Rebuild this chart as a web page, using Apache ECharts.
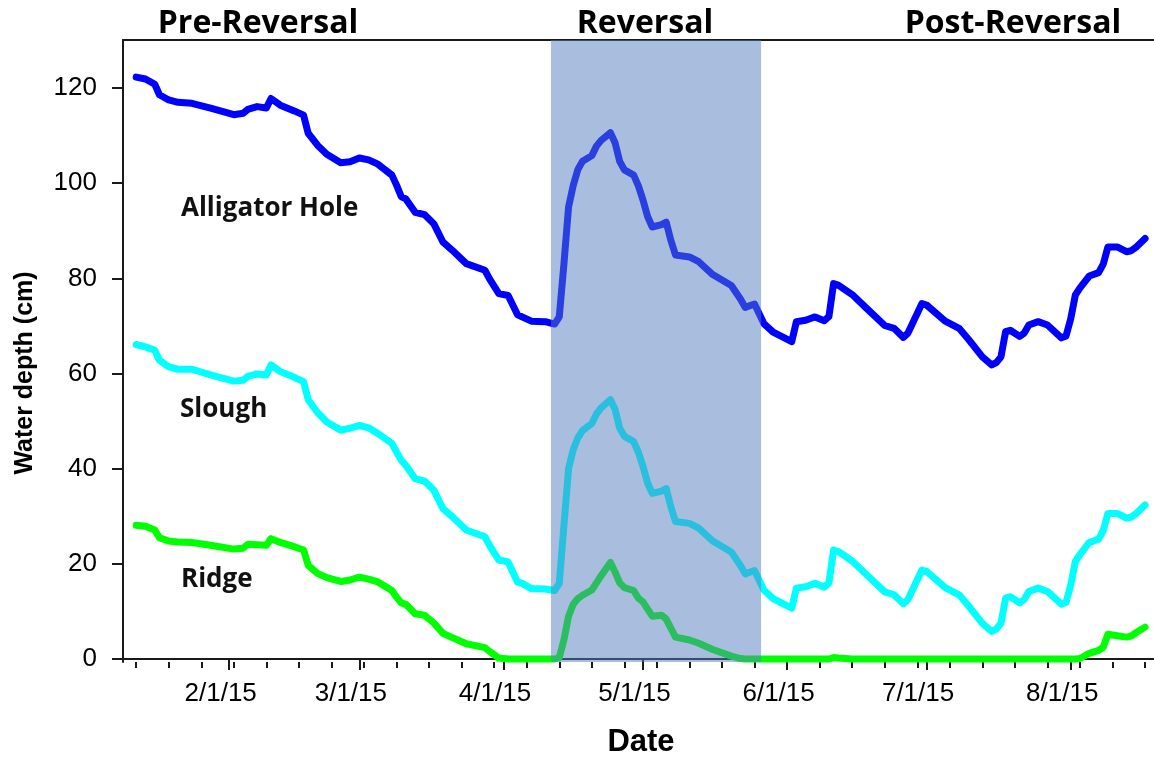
<!DOCTYPE html>
<html lang="en">

<head>
    <meta charset="UTF-8">
    <title>Water depth</title>
    <style>
        * {
            padding: 0;
            margin: 0;
        }

        body,
        html {
            width: 100%;
            height: 100%;
            background: #fff;
        }

        #main {
            width: 1154px;
            height: 757px;
        }
    </style>
</head>

<body>
    <div id="main"></div>
    <script src="https://cdn.jsdelivr.net/npm/echarts@6/dist/echarts.min.js"></script>
    <script>
        // dates (2015, M/D) shared by the three series
        var dates = ['1/12', '1/14', '1/16', '1/17', '1/19', '1/21', '1/24', '1/28', '2/2', '2/4',
            '2/5', '2/7', '2/9', '2/10', '2/12', '2/15', '2/17', '2/18', '2/20', '2/22',
            '2/25', '2/27', '3/1', '3/3', '3/5', '3/8', '3/9', '3/10', '3/11', '3/13',
            '3/15', '3/17', '3/19', '3/21', '3/24', '3/28', '3/29', '3/31', '4/2', '4/4',
            '4/5', '4/7', '4/10', '4/12', '4/13', '4/14', '4/15', '4/16', '4/17', '4/18',
            '4/20', '4/21', '4/22', '4/24', '4/25', '4/26', '4/27', '4/29', '4/30', '5/1',
            '5/2', '5/3', '5/5', '5/6', '5/7', '5/8', '5/11', '5/13', '5/16', '5/20',
            '5/22', '5/23', '5/25', '5/27', '5/29', '6/2', '6/3', '6/5', '6/7', '6/9',
            '6/10', '6/11', '6/12', '6/15', '6/18', '6/22', '6/24', '6/26', '6/27', '6/30',
            '7/1', '7/5', '7/8', '7/10', '7/13', '7/15', '7/16', '7/17', '7/18', '7/19',
            '7/21', '7/22', '7/23', '7/25', '7/27', '7/30', '7/31', '8/1', '8/2', '8/3',
            '8/5', '8/7', '8/8', '8/9', '8/11', '8/13', '8/14', '8/15', '8/17'];

        var holeDepth = [122.3, 121.9, 120.8, 118.6, 117.5, 117.0, 116.8, 115.8, 114.4, 114.7,
            115.5, 116.1, 115.8, 117.8, 116.4, 115.2, 114.3, 110.5, 108.0, 106.1,
            104.3, 104.5, 105.3, 104.9, 104.0, 101.7, 99.6, 97.2, 96.7, 93.9,
            93.4, 91.5, 87.6, 85.9, 83.1, 81.7, 79.9, 76.8, 76.4, 72.4,
            71.9, 71.0, 70.9, 70.4, 71.9, 83.0, 95.0, 99.5, 102.9, 104.6,
            105.8, 107.8, 109.0, 110.6, 108.5, 104.6, 102.8, 101.7, 99.5, 96.5,
            93.0, 90.8, 91.3, 91.8, 88.0, 84.9, 84.5, 83.5, 80.8, 78.5,
            75.6, 73.9, 74.6, 70.5, 68.7, 66.7, 70.9, 71.2, 71.9, 71.1,
            72.0, 78.9, 78.6, 76.6, 73.8, 70.1, 69.5, 67.6, 68.5, 74.7,
            74.4, 71.0, 69.5, 67.2, 63.5, 61.8, 62.3, 63.5, 68.8, 69.1,
            67.8, 68.5, 70.2, 70.9, 70.2, 67.5, 67.9, 71.5, 76.5, 78.0,
            80.5, 81.2, 83.0, 86.6, 86.6, 85.6, 85.8, 86.5, 88.4];

        var sloughDepth = [66.1, 65.6, 64.9, 62.8, 61.4, 60.9, 60.9, 59.7, 58.4, 58.6,
            59.4, 59.9, 59.7, 61.8, 60.4, 59.2, 58.3, 54.5, 51.8, 49.8,
            48.1, 48.5, 49.1, 48.6, 47.4, 45.3, 43.5, 41.8, 40.7, 37.9,
            37.4, 35.5, 31.6, 29.9, 27.1, 25.7, 23.9, 20.8, 20.4, 16.2,
            15.9, 14.8, 14.7, 14.4, 15.9, 28.0, 40.0, 44.0, 46.5, 48.0,
            49.5, 51.5, 52.8, 54.5, 52.5, 48.5, 46.8, 45.7, 43.5, 40.5,
            37.0, 34.8, 35.3, 35.8, 32.0, 28.9, 28.5, 27.5, 24.8, 22.5,
            19.6, 17.9, 18.6, 14.5, 12.7, 10.7, 14.9, 15.2, 15.9, 15.1,
            16.0, 22.9, 22.6, 20.6, 17.8, 14.1, 13.5, 11.6, 12.5, 18.7,
            18.4, 15.0, 13.5, 11.2, 7.5, 5.8, 6.3, 7.5, 12.8, 13.1,
            11.8, 12.5, 14.2, 14.9, 14.2, 11.5, 11.9, 15.5, 20.5, 22.0,
            24.5, 25.2, 27.0, 30.6, 30.6, 29.6, 29.8, 30.5, 32.4];

        var ridgeDepth = [28.1, 27.9, 27.1, 25.5, 24.8, 24.6, 24.5, 23.9, 23.1, 23.3,
            24.1, 24.0, 23.9, 25.3, 24.5, 23.6, 22.9, 19.7, 18.0, 17.1,
            16.3, 16.6, 17.2, 16.8, 16.2, 14.4, 13.0, 11.8, 11.5, 9.5,
            9.2, 7.6, 5.4, 4.5, 3.2, 2.4, 1.6, 0.2, 0, 0,
            0, 0, 0, 0, 0.3, 4.0, 9.0, 11.5, 12.7, 13.4,
            14.5, 16.0, 17.5, 20.3, 18.3, 16.0, 15.0, 14.4, 12.8, 12.0,
            10.5, 9.0, 9.2, 8.4, 6.5, 4.6, 4.0, 3.3, 2.0, 0.6,
            0.1, 0, 0, 0, 0, 0, 0, 0, 0, 0,
            0, 0.3, 0.2, 0, 0, 0, 0, 0, 0, 0,
            0, 0, 0, 0, 0, 0, 0, 0, 0, 0,
            0, 0, 0, 0, 0, 0, 0, 0, 0, 0.1,
            1.2, 1.8, 2.5, 5.2, 4.9, 4.6, 4.8, 5.5, 6.7];

        var monthTicks = ['2/1', '3/1', '4/1', '5/1', '6/1', '7/1', '8/1'];
        var depthTicks = [0, 20, 40, 60, 80, 100, 120];
        var reversal = ['4/11', '5/26'];
        var periods = ['Pre-Reversal', 'Reversal', 'Post-Reversal'];
        var siteNames = ['Alligator Hole', 'Slough', 'Ridge'];

        function toTime(md, hour) {
            var p = md.split('/');
            return new Date(2015, +p[0] - 1, +p[1], hour || 0).getTime();
        }

        function pairs(values) {
            return dates.map(function (d, i) { return [toTime(d), values[i]]; });
        }

        var xMin = new Date(2015, 0, 9, 4).getTime();
        var xMax = new Date(2015, 7, 18, 22).getTime();

        // weekly minor ticks (Mondays)
        var weekTicks = [];
        for (var t = new Date(2015, 0, 12); t.getTime() < xMax; t.setDate(t.getDate() + 7)) {
            weekTicks.push(t.getTime());
        }
        var monthValues = monthTicks.map(function (m) { return toTime(m); });

        var axisColor = '#1a1a1a';
        var labelFont = { color: '#000', fontFamily: 'Arial, "Liberation Sans"', fontSize: 26 };
        var boldSans = '"Open Sans", "Noto Sans", sans-serif';

        var myChart = echarts.init(document.getElementById('main'));

        var option = {
            animation: false,
            backgroundColor: '#fff',
            grid: { left: 123, right: 0, top: 40, bottom: 95 },
            xAxis: [{
                // month ticks with labels (x values are timestamps)
                type: 'value',
                position: 'bottom',
                min: xMin,
                max: xMax,
                axisLine: { lineStyle: { color: axisColor, width: 2 } },
                axisTick: { show: true, customValues: monthValues, length: 11, lineStyle: { color: axisColor, width: 2 } },
                axisLabel: {
                    customValues: monthValues,
                    margin: 19,
                    padding: [0, 17, 0, 0],
                    color: labelFont.color,
                    fontFamily: labelFont.fontFamily,
                    fontSize: labelFont.fontSize,
                    formatter: function (v) {
                        return (new Date(v).getMonth() + 1) + '/1/15';
                    }
                },
                splitLine: { show: false }
            }, {
                // weekly minor ticks
                type: 'value',
                position: 'bottom',
                min: xMin,
                max: xMax,
                axisLine: { show: false },
                axisTick: { show: true, customValues: weekTicks, length: 6, lineStyle: { color: axisColor, width: 2 } },
                axisLabel: { show: false },
                splitLine: { show: false }
            }, {
                // top frame line
                type: 'value',
                position: 'top',
                min: xMin,
                max: xMax,
                axisLine: { lineStyle: { color: axisColor, width: 2 } },
                axisTick: { show: false },
                axisLabel: { show: false },
                splitLine: { show: false }
            }],
            yAxis: {
                type: 'value',
                min: -0.63,
                max: 130.1,
                axisLine: { show: true, lineStyle: { color: axisColor, width: 2 } },
                axisTick: { show: true, customValues: depthTicks, length: 11, lineStyle: { color: axisColor, width: 2 } },
                axisLabel: {
                    customValues: depthTicks,
                    margin: 26,
                    color: labelFont.color,
                    fontFamily: labelFont.fontFamily,
                    fontSize: labelFont.fontSize
                },
                splitLine: { show: false }
            },
            series: [{
                name: siteNames[0],
                type: 'line',
                z: 2,
                showSymbol: false,
                lineStyle: { color: '#0000ff', width: 7, cap: 'round', join: 'round' },
                data: pairs(holeDepth)
            }, {
                name: siteNames[1],
                type: 'line',
                z: 2,
                showSymbol: false,
                lineStyle: { color: '#00ffff', width: 7, cap: 'round', join: 'round' },
                data: pairs(sloughDepth)
            }, {
                name: siteNames[2],
                type: 'line',
                z: 2,
                showSymbol: false,
                lineStyle: { color: '#00ff00', width: 7, cap: 'round', join: 'round' },
                data: pairs(ridgeDepth)
            }, {
                // reversal shading, drawn over the lines
                name: 'reversal',
                type: 'line',
                z: 5,
                data: [],
                markArea: {
                    silent: true,
                    z: 10,
                    itemStyle: { color: 'rgba(84,126,192,0.5)' },
                    data: [[{ xAxis: toTime(reversal[0], 5) }, { xAxis: toTime(reversal[1], 10) }]]
                }
            }],
            graphic: [
                { type: 'text', x: 258, y: 24, style: { text: periods[0], font: 'bold 32px ' + boldSans, fill: '#000', align: 'center', verticalAlign: 'middle' } },
                { type: 'text', x: 645, y: 24, style: { text: periods[1], font: 'bold 32px ' + boldSans, fill: '#000', align: 'center', verticalAlign: 'middle' } },
                { type: 'text', x: 1013, y: 24, style: { text: periods[2], font: 'bold 32px ' + boldSans, fill: '#000', align: 'center', verticalAlign: 'middle' } },
                { type: 'text', x: 181, y: 209, style: { text: siteNames[0], font: 'bold 26px ' + boldSans, fill: '#111', align: 'left', verticalAlign: 'middle' } },
                { type: 'text', x: 180, y: 410, style: { text: siteNames[1], font: 'bold 26px ' + boldSans, fill: '#111', align: 'left', verticalAlign: 'middle' } },
                { type: 'text', x: 181, y: 580, style: { text: siteNames[2], font: 'bold 26px ' + boldSans, fill: '#111', align: 'left', verticalAlign: 'middle' } },
                { type: 'text', x: 25, y: 373, rotation: Math.PI / 2, style: { text: 'Water depth (cm)', font: 'bold 25px Arial, "Liberation Sans"', fill: '#000', align: 'center', verticalAlign: 'middle' } },
                { type: 'text', x: 641, y: 742, style: { text: 'Date', font: 'bold 31px Arial, "Liberation Sans"', fill: '#000', align: 'center', verticalAlign: 'middle' } }
            ]
        };
        myChart.setOption(option);
    </script>
</body>

</html>
